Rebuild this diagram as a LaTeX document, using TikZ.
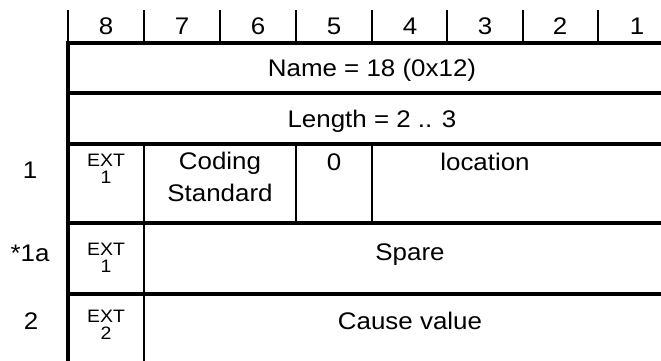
\documentclass[tikz,border=0pt]{standalone}
\usepackage{fontspec}
\setmainfont[FakeStretch=1.08]{Liberation Sans}
\begin{document}
\begin{tikzpicture}[x=1pt,y=-1pt,
  thick line/.style={line width=4pt},
  thin line/.style={line width=1.3pt},
  big/.style={font=\fontsize{24}{32}\selectfont, inner sep=0pt, anchor=base},
  small/.style={font=\fontsize{18}{16}\selectfont, inner sep=0pt, anchor=base, text height=12.5pt, text depth=0pt},
  multi/.style={align=center, font=\fontsize{24}{32}\selectfont, inner sep=0pt, anchor=north}]
\useasboundingbox (0,0) rectangle (661,360);
\clip (0,0) rectangle (661,360);
% header ticks
\foreach \x in {68,144,220,296,372,447,523,598}
  \draw[thin line] (\x,10) -- (\x,42);
% header numbers
\foreach \x/\n in {106/8,182/7,258/6,334/5,410/4,485/3,560/2,637/1}
  \node[big] (h\n) at (\x,34) {\n};
% thick horizontal lines
\foreach \y in {43,93,144,223,294}
  \draw[thick line] (66,\y) -- (680,\y);
% left border
\draw[thick line] (68,41) -- (68,362);
% thin verticals
\draw[thin line] (144,144) -- (144,362);
\draw[thin line] (296,144) -- (296,223);
\draw[thin line] (372,144) -- (372,223);
% texts
\node[big] (name) at (372,76) {Name = 18 (0x12)};
\node[big] (len) at (372,127) {Length = 2 .. 3};
% row 1
\node[big] (r1) at (30,178) {1};
\node[small] (ext1) at (106,166) {EXT};
\node[small] (ext1v) at (106,183) {1};
\node[multi] (coding) at (220,152) {Coding\\Standard};
\node[big] (zero) at (334,170) {0};
\node[big] (loc) at (485,170) {location};
% row 1a
\node[big] (r1a) at (30,261) {*1a};
\node[small] (ext2) at (106,255) {EXT};
\node[small] (ext2v) at (106,272) {1};
\node[big] (spare) at (410,260) {Spare};
% row 2
\node[big] (r2) at (31,329) {2};
\node[small] (ext3) at (106,322) {EXT};
\node[small] (ext3v) at (106,339) {2};
\node[big] (cause) at (410,329) {Cause value};
\end{tikzpicture}
\end{document}
